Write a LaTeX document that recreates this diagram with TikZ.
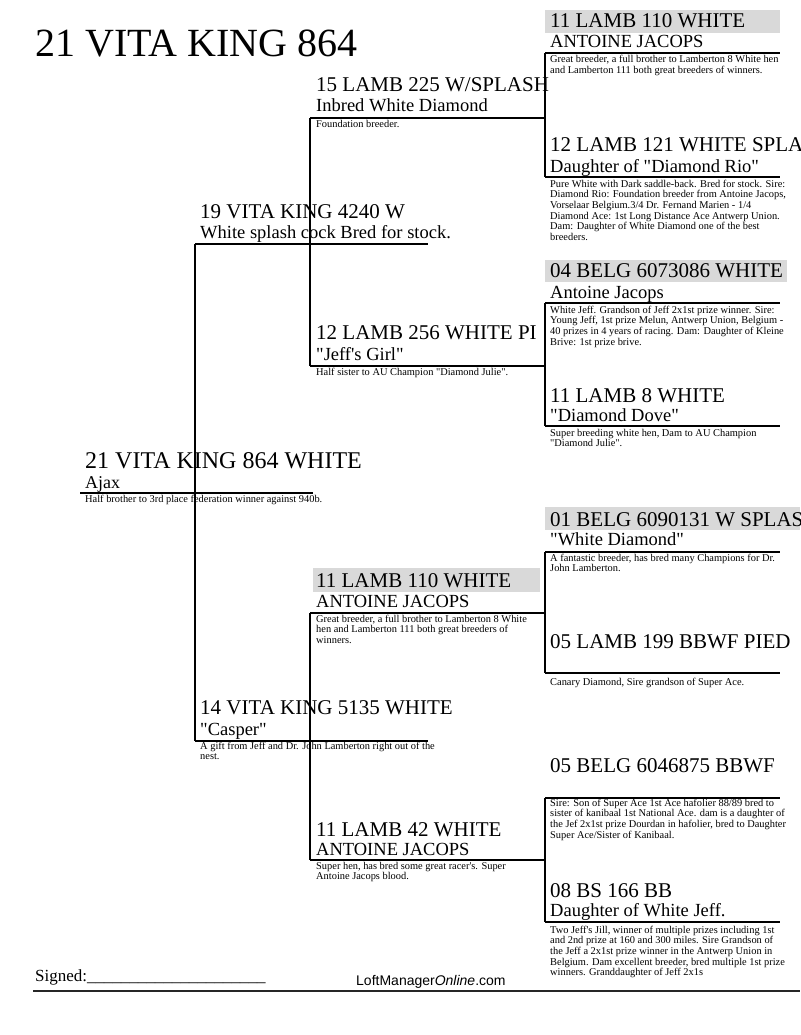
\documentclass[tikz,border=0pt]{standalone}
\usepackage{fontspec}
\setmainfont{Liberation Serif}[Ligatures=TeXOff]
\newfontfamily\footsans{Liberation Sans}
\definecolor{hl}{RGB}{217,217,217}
\newcommand\dl[1]{\hbox{#1}}
\tikzset{
  titletxt/.style={font=\fontsize{40}{40}\selectfont, anchor=base west, inner sep=0},
  gonetxt/.style={font=\fontsize{24}{24}\selectfont, anchor=base west, inner sep=0},
  subone/.style={font=\fontsize{18}{18}\selectfont, anchor=base west, inner sep=0},
  nametxt/.style={font=\fontsize{21}{21}\selectfont, anchor=base west, inner sep=0},
  subtxt/.style={font=\fontsize{18.5}{18.5}\selectfont, anchor=base west, inner sep=0},
  desc/.style={font=\fontsize{10.4}{10.7}\selectfont, anchor=base west, inner sep=0},
  hlbox/.style={fill=hl, draw=none},
  rule/.style={line width=1.2pt, draw=black},
  footrule/.style={line width=2pt, draw=black!85},
}
\begin{document}
\begin{tikzpicture}[x=1pt,y=-1pt]
\useasboundingbox[fill=white] (0,0) rectangle (800,1035);

% highlight boxes
\fill[hlbox] (545,10) rectangle (780,33);
\fill[hlbox] (545,260) rectangle (787,282);
\fill[hlbox] (545,507) rectangle (800,530);
\fill[hlbox] (313,568) rectangle (540,592);

% underline coordinates
\coordinate (g1-l) at (80,493);   \coordinate (g1-r) at (313,493);
\coordinate (g2a-l) at (195,244); \coordinate (g2a-r) at (428,244);
\coordinate (g2b-l) at (195,741); \coordinate (g2b-r) at (428,741);
\coordinate (g3a-l) at (310,118); \coordinate (g3a-r) at (545,118);
\coordinate (g3b-l) at (310,366); \coordinate (g3b-r) at (545,366);
\coordinate (g3c-l) at (310,613); \coordinate (g3c-r) at (545,613);
\coordinate (g3d-l) at (310,860); \coordinate (g3d-r) at (545,860);
\coordinate (g4a-l) at (545,53);  \coordinate (g4a-r) at (780,53);
\coordinate (g4b-l) at (545,177); \coordinate (g4b-r) at (780,177);
\coordinate (g4c-l) at (545,303); \coordinate (g4c-r) at (780,303);
\coordinate (g4d-l) at (545,426); \coordinate (g4d-r) at (780,426);
\coordinate (g4e-l) at (545,552); \coordinate (g4e-r) at (780,552);
\coordinate (g4f-l) at (545,673); \coordinate (g4f-r) at (780,673);
\coordinate (g4g-l) at (545,798); \coordinate (g4g-r) at (780,798);
\coordinate (g4h-l) at (545,922); \coordinate (g4h-r) at (780,922);

% underlines
\foreach \e in {g1,g2a,g2b,g3a,g3b,g3c,g3d,g4a,g4b,g4c,g4d,g4e,g4f,g4g,g4h}
  \draw[rule] (\e-l) -- (\e-r);

% brackets (sire to dam)
\draw[rule] (g2a-l) -- (g2b-l);
\draw[rule] (g3a-l) -- (g3b-l);
\draw[rule] (g3c-l) -- (g3d-l);
\draw[rule] (g4a-l) -- (g4b-l);
\draw[rule] (g4c-l) -- (g4d-l);
\draw[rule] (g4e-l) -- (g4f-l);
\draw[rule] (g4g-l) -- (g4h-l);

% title
\node[titletxt] (title) at (35,57) {21 VITA KING 864};

% generation 1
\node[gonetxt] (g1n) at (85,468) {21 VITA KING 864 WHITE};
\node[subone] (g1s) at (85,488) {Ajax};
\node[desc] (g1d) at (85,502) {Half brother to 3rd place federation winner against 940b.};

% generation 2
\node[nametxt] (g2an) at (200,218) {19 VITA KING 4240 W};
\node[subtxt] (g2as) at (200,238) {White splash cock Bred for stock.};

\node[nametxt] (g2bn) at (200,714) {14 VITA KING 5135 WHITE};
\node[subtxt] (g2bs) at (200,735) {"Casper"};
\node[desc] (g2bd) at (200,749) {\vtop{\dl{A gift from Jeff and Dr. John Lamberton right out of the}\dl{nest.}}};

% generation 3
\node[nametxt] (g3an) at (316,92) {15 LAMB 225 W/SPLASH};
\node[subtxt] (g3as) at (316,112) {Inbred White Diamond};
\node[desc] (g3ad) at (316,128) {Foundation breeder.};

\node[nametxt] (g3bn) at (316,339) {12 LAMB 256 WHITE PI};
\node[subtxt] (g3bs) at (316,360) {"Jeff's Girl"};
\node[desc] (g3bd) at (316,375) {Half sister to AU Champion "Diamond Julie".};

\node[nametxt] (g3cn) at (316,587) {11 LAMB 110 WHITE};
\node[subtxt] (g3cs) at (316,607) {ANTOINE JACOPS};
\node[desc] (g3cd) at (316,622) {\vtop{\dl{Great breeder, a full brother to Lamberton 8 White}\dl{hen and Lamberton 111 both great breeders of}\dl{winners.}}};

\node[nametxt] (g3dn) at (316,836) {11 LAMB 42 WHITE};
\node[subtxt] (g3ds) at (316,855) {ANTOINE JACOPS};
\node[desc] (g3dd) at (316,869) {\vtop{\dl{Super hen, has bred some great racer's. Super}\dl{Antoine Jacops blood.}}};

% generation 4
\node[nametxt] (g4an) at (550,28) {11 LAMB 110 WHITE};
\node[subtxt] (g4as) at (550,48) {ANTOINE JACOPS};
\node[desc] (g4ad) at (550,63) {\vtop{\dl{Great breeder, a full brother to Lamberton 8 White hen}\dl{and Lamberton 111 both great breeders of winners.}}};

\node[nametxt] (g4bn) at (550,152) {12 LAMB 121 WHITE SPLA};
\node[subtxt] (g4bs) at (550,172) {Daughter of "Diamond Rio"};
\node[desc] (g4bd) at (550,187) {\vtop{\dl{Pure White with Dark saddle-back. Bred for stock. Sire:}\dl{Diamond Rio: Foundation breeder from Antoine Jacops,}\dl{Vorselaar Belgium.3/4 Dr. Fernand Marien - 1/4}\dl{Diamond Ace: 1st Long Distance Ace Antwerp Union.}\dl{Dam: Daughter of White Diamond one of the best}\dl{breeders.}}};

\node[nametxt] (g4cn) at (550,277) {04 BELG 6073086 WHITE};
\node[subtxt] (g4cs) at (550,298) {Antoine Jacops};
\node[desc] (g4cd) at (550,313) {\vtop{\dl{White Jeff. Grandson of Jeff 2x1st prize winner. Sire:}\dl{Young Jeff, 1st prize Melun, Antwerp Union, Belgium -}\dl{40 prizes in 4 years of racing. Dam: Daughter of Kleine}\dl{Brive: 1st prize brive.}}};

\node[nametxt] (g4dn) at (550,402) {11 LAMB 8 WHITE};
\node[subtxt] (g4ds) at (550,421) {"Diamond Dove"};
\node[desc] (g4dd) at (550,436) {\vtop{\dl{Super breeding white hen, Dam to AU Champion}\dl{"Diamond Julie".}}};

\node[nametxt] (g4en) at (550,526) {01 BELG 6090131 W SPLAS};
\node[subtxt] (g4es) at (550,545) {"White Diamond"};
\node[desc] (g4ed) at (550,561) {\vtop{\dl{A fantastic breeder, has bred many Champions for Dr.}\dl{John Lamberton.}}};

\node[nametxt] (g4fn) at (550,648) {05 LAMB 199 BBWF PIED};
\node[desc] (g4fd) at (550,685) {Canary Diamond, Sire grandson of Super Ace.};

\node[nametxt] (g4gn) at (550,772) {05 BELG 6046875 BBWF};
\node[desc] (g4gd) at (550,806) {\vtop{\dl{Sire: Son of Super Ace 1st Ace hafolier 88/89 bred to}\dl{sister of kanibaal 1st National Ace. dam is a daughter of}\dl{the Jef 2x1st prize Dourdan in hafolier, bred to Daughter}\dl{Super Ace/Sister of Kanibaal.}}};

\node[nametxt] (g4hn) at (550,897) {08 BS 166 BB};
\node[subtxt] (g4hs) at (550,916) {Daughter of White Jeff.};
\node[desc] (g4hd) at (550,933) {\vtop{\dl{Two Jeff's Jill, winner of multiple prizes including 1st}\dl{and 2nd prize at 160 and 300 miles. Sire Grandson of}\dl{the Jeff a 2x1st prize winner in the Antwerp Union in}\dl{Belgium. Dam excellent breeder, bred multiple 1st prize}\dl{winners. Granddaughter of Jeff 2x1s}}};

% footer
\node[font=\fontsize{17}{17}\selectfont, anchor=base west, inner sep=0] (signed) at (35,981) {Signed:\_\_\_\_\_\_\_\_\_\_\_\_\_\_\_\_\_\_\_\_\_};
\node[font=\footsans\fontsize{14}{14}\selectfont, anchor=base west, inner sep=0] (site) at (356,985) {LoftManager\textit{Online}.com};
\coordinate (fr-l) at (33,991);
\coordinate (fr-r) at (800,991);
\draw[footrule] (fr-l) -- (fr-r);
\end{tikzpicture}
\end{document}
